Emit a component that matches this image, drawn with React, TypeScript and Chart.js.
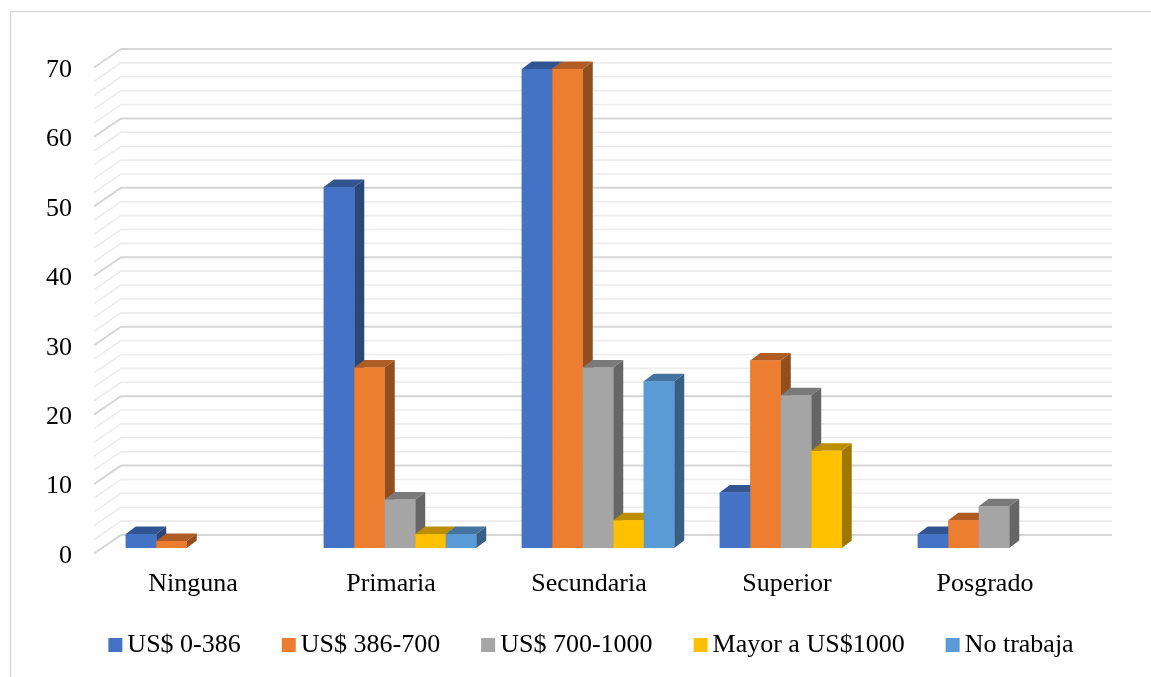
import React, { useEffect, useRef } from "react";
import { Chart, registerables } from "chart.js";

Chart.register(...registerables);

const categories = ["Ninguna", "Primaria", "Secundaria", "Superior", "Posgrado"];
const seriesNames = ["US$ 0-386", "US$ 386-700", "US$ 700-1000", "Mayor a US$1000", "No trabaja"];
const seriesUS0to386 = [2, 52, 69, 8, 2];
const seriesUS386to700 = [1, 26, 69, 27, 4];
const seriesUS700to1000 = [0, 7, 26, 22, 6];
const seriesMayor1000 = [0, 2, 4, 14, 0];
const seriesNoTrabaja = [0, 2, 24, 0, 0];
const seriesValues = [seriesUS0to386, seriesUS386to700, seriesUS700to1000, seriesMayor1000, seriesNoTrabaja];
const seriesColors = ["#4472C4", "#ED7D31", "#A5A5A5", "#FFC000", "#5B9BD5"];
const yTickMin = 0;
const yTickMax = 70;
const yTickStep = 10;
const yMinorStep = 2;

const FONT_FAMILY = "'Times New Roman', 'Liberation Serif', serif";
const FONT = { family: FONT_FAMILY, size: 26 };

function shade(hex: string, f: number): string {
  const n = parseInt(hex.slice(1), 16);
  const r = Math.round(((n >> 16) & 255) * f);
  const g = Math.round(((n >> 8) & 255) * f);
  const b = Math.round((n & 255) * f);
  return `rgb(${r},${g},${b})`;
}

const frame3D = {
  id: "frame3D",
  beforeDraw(chart: any) {
    const ctx = chart.ctx;
    ctx.save();
    ctx.strokeStyle = "#d9d9d9";
    ctx.lineWidth = 1.5;
    ctx.beginPath();
    ctx.moveTo(10.5, 677);
    ctx.lineTo(10.5, 11.5);
    ctx.lineTo(1151, 11.5);
    ctx.stroke();
    ctx.restore();
  },
  beforeDatasetsDraw(chart: any) {
    const ctx = chart.ctx;
    const y = chart.scales.y;
    const { left, right } = chart.chartArea;
    ctx.save();
    for (let v = yTickMin; v <= yTickMax; v += yMinorStep) {
      const p = y.getPixelForValue(v);
      const major = v % yTickStep === 0;
      ctx.strokeStyle = major ? "#d6d6d6" : "#ececec";
      ctx.lineWidth = major ? 2 : 1.6;
      ctx.beginPath();
      ctx.moveTo(left - 9, p + 5.5);
      ctx.lineTo(left + 18, p - 13);
      ctx.lineTo(right + 19, p - 13);
      ctx.stroke();
    }
    ctx.restore();
  },
  afterDatasetsDraw(chart: any) {
    const ctx = chart.ctx;
    const dx = 10;
    const dy = 7.5;
    ctx.save();
    chart.data.datasets.forEach((ds: any, i: number) => {
      const meta = chart.getDatasetMeta(i);
      const color = seriesColors[i];
      meta.data.forEach((el: any, j: number) => {
        if (!ds.data[j]) return;
        const { x, y, base, width } = el.getProps(["x", "y", "base", "width"], true);
        const l = x - width / 2;
        const r = x + width / 2;
        ctx.fillStyle = shade(color, 0.62);
        ctx.beginPath();
        ctx.moveTo(r, y);
        ctx.lineTo(r + dx, y - dy);
        ctx.lineTo(r + dx, base - dy);
        ctx.lineTo(r, base);
        ctx.closePath();
        ctx.fill();
        ctx.fillStyle = shade(color, 0.74);
        ctx.beginPath();
        ctx.moveTo(l, y);
        ctx.lineTo(r, y);
        ctx.lineTo(r + dx, y - dy);
        ctx.lineTo(l + dx, y - dy);
        ctx.closePath();
        ctx.fill();
        ctx.fillStyle = color;
        ctx.fillRect(l, y, width, base - y);
      });
    });
    ctx.restore();
  },
  afterDraw(chart: any) {
    const ctx = chart.ctx;
    const box = 14;
    const gap = 5;
    const spacing = 41;
    const cy = 645;
    const cx = 591;
    ctx.save();
    ctx.font = `26px ${FONT_FAMILY}`;
    ctx.textBaseline = "middle";
    ctx.textAlign = "left";
    const items = chart.data.datasets.map((ds: any, i: number) => ({
      text: ds.label as string,
      color: seriesColors[i],
      w: ctx.measureText(ds.label).width,
    }));
    const total =
      items.reduce((s: number, it: any) => s + box + gap + it.w, 0) + spacing * (items.length - 1);
    let x = cx - total / 2;
    items.forEach((it: any) => {
      ctx.fillStyle = it.color;
      ctx.fillRect(x, cy - box / 2, box, box);
      ctx.fillStyle = "#000";
      ctx.fillText(it.text, x + box + gap, cy);
      x += box + gap + it.w + spacing;
    });
    ctx.restore();
  },
};

export default function App() {
  const ref = useRef<HTMLCanvasElement | null>(null);
  useEffect(() => {
    if (!ref.current) return;
    const chart = new Chart(ref.current, {
      type: "bar",
      data: {
        labels: categories,
        datasets: seriesNames.map((name, i) => ({
          label: name,
          data: seriesValues[i],
          backgroundColor: seriesColors[i],
          borderWidth: 0,
          barPercentage: 1,
          categoryPercentage: 0.77,
        })),
      },
      options: {
        responsive: false,
        animation: false,
        layout: { padding: { left: 0, right: 58, top: 62, bottom: 74 } },
        scales: {
          x: {
            grid: { display: false, drawTicks: false },
            border: { display: false },
            ticks: { font: FONT, color: "#000", padding: 21, labelOffset: -9 },
            afterFit: (s: any) => {
              s.height = 55;
            },
          },
          y: {
            min: yTickMin,
            max: yTickMax,
            grid: { display: false, drawTicks: false },
            border: { display: false },
            ticks: { stepSize: yTickStep, font: FONT, color: "#000", padding: 31, labelOffset: 8 },
            afterFit: (s: any) => {
              s.width = 103;
            },
          },
        },
        plugins: {
          legend: { display: false },
          tooltip: { enabled: false },
        },
      },
      plugins: [frame3D],
    });
    return () => chart.destroy();
  }, []);
  return (
    <div style={{ position: "fixed", left: 0, top: 0, width: 1151, height: 677, background: "#fff" }}>
      <canvas ref={ref} width={1151} height={677} style={{ display: "block" }} />
    </div>
  );
}
